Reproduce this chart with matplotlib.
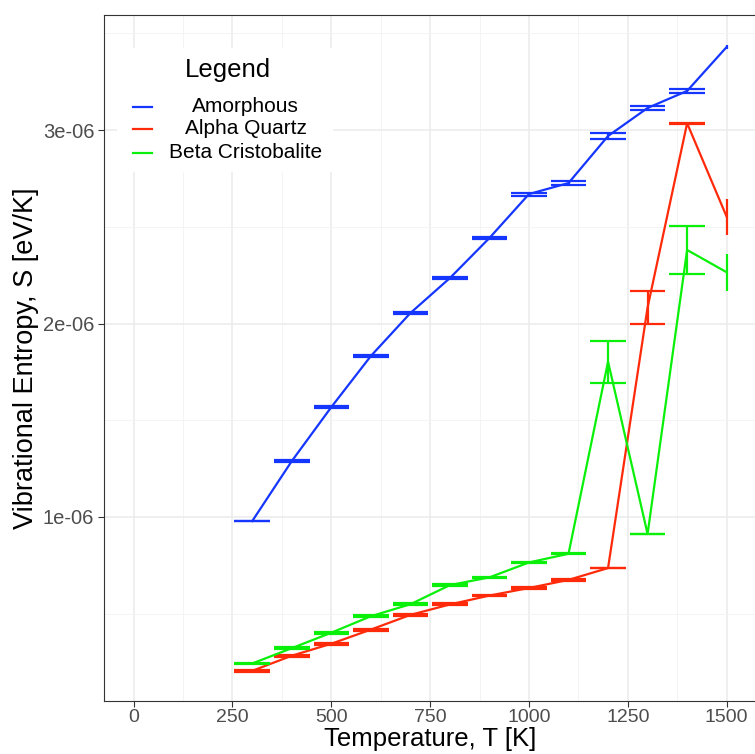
import matplotlib
matplotlib.use('Agg')
from matplotlib import pyplot as plt
from matplotlib.lines import Line2D
from matplotlib.patches import Rectangle
import numpy as np

plt.rcParams['font.family'] = ['Liberation Sans', 'DejaVu Sans']

# temperatures [K]
T = np.array([300, 400, 500, 600, 700, 800, 900, 1000, 1100, 1200, 1300, 1400, 1500])

# vibrational entropy, units of 1e-06 eV/K
amorphous = np.array([0.979, 1.289, 1.568, 1.832, 2.054, 2.235, 2.442, 2.669, 2.726, 2.969, 3.114, 3.202, 3.429])
amorphous_err = np.array([0.002, 0.004, 0.006, 0.004, 0.006, 0.005, 0.004, 0.008, 0.008, 0.015, 0.010, 0.012, 0.010])

alpha = np.array([0.205, 0.283, 0.345, 0.418, 0.494, 0.548, 0.594, 0.633, 0.675, 0.736, 2.083, 3.035, 2.552])
alpha_err = np.array([0.004, 0.005, 0.005, 0.005, 0.005, 0.005, 0.004, 0.004, 0.005, 0.002, 0.087, 0.002, 0.092])

beta = np.array([0.243, 0.322, 0.402, 0.487, 0.549, 0.648, 0.688, 0.765, 0.810, 1.803, 0.912, 2.380, 2.265])
beta_err = np.array([0.003, 0.005, 0.005, 0.005, 0.005, 0.004, 0.004, 0.004, 0.002, 0.108, 0.002, 0.124, 0.095])

names = ['Amorphous', 'Alpha Quartz', 'Beta Cristobalite']
colors = ['#1536FF', '#FF2A0A', '#0AF00A']
series = [(amorphous, amorphous_err), (alpha, alpha_err), (beta, beta_err)]

W, H = 755, 754
fig = plt.figure(figsize=(W / 100, H / 100), dpi=100)

def fx(x):
    return x / W

def fy(y):
    return 1 - y / H

# panel runs slightly past the right edge of the picture
ax = fig.add_axes([fx(104), fy(701), (756.3 - 104) / W, (701 - 14.7) / H])
ax.set_xlim(-75, 1575)
ax.set_ylim(0.049e-6, 3.596e-6)

ax.set_xticks([0, 250, 500, 750, 1000, 1250, 1500])
ax.set_xticks([125, 375, 625, 875, 1125, 1375], minor=True)
ax.set_yticks([1e-6, 2e-6, 3e-6])
ax.set_yticks([0.5e-6, 1.5e-6, 2.5e-6, 3.5e-6], minor=True)
ax.set_yticklabels(['1e-06', '2e-06', '3e-06'])
ax.grid(which='major', color='#EBEBEB', lw=1.1, zorder=0)
ax.grid(which='minor', color='#F3F3F3', lw=0.6, zorder=0)
ax.set_axisbelow(True)
ax.tick_params(which='major', length=4, width=0.8, color='#333333', labelcolor='#4D4D4D',
               labelsize=14.5, pad=3)
ax.tick_params(axis='x', labelsize=14, pad=2)
ax.tick_params(which='minor', length=0)
for s in ax.spines.values():
    s.set_color('#333333')
    s.set_linewidth(0.8)

hw = 45  # half width of error bar caps
for (vals, err), c in zip(series, colors):
    y = vals * 1e-6
    e = err * 1e-6
    ax.vlines(T, y - e, y + e, color=c, lw=1.6, zorder=3)
    keep = T + hw <= 1500
    ax.hlines(y[keep] - e[keep], T[keep] - hw, T[keep] + hw, color=c, lw=1.6, zorder=3)
    ax.hlines(y[keep] + e[keep], T[keep] - hw, T[keep] + hw, color=c, lw=1.6, zorder=3)
    ax.plot(T, y, color=c, lw=1.6, zorder=3)

ax.set_xlabel('Temperature, T [K]', fontsize=18.5, labelpad=0.5)
ax.set_ylabel('Vibrational Entropy, S [eV/K]', fontsize=19.5, labelpad=3)

# legend box drawn inside the panel
ax.add_patch(Rectangle((fx(117), fy(172)), fx(333) - fx(117), fy(48) - fy(172),
                       transform=fig.transFigure, facecolor='white', edgecolor='none', zorder=4))
fig.text(fx(227.5), fy(70), 'Legend', fontsize=18.5, ha='center', va='center', zorder=5)
rows = [106.5, 129, 152.5]
for name, c, ry in zip(names, colors, rows):
    fig.add_artist(Line2D([fx(133), fx(152)], [fy(ry), fy(ry)], color=c, lw=1.6,
                          transform=fig.transFigure))
    fig.text(fx(245.5), fy(ry), name, fontsize=15, ha='center', va='center')

fig.savefig('out.png', dpi=100)
